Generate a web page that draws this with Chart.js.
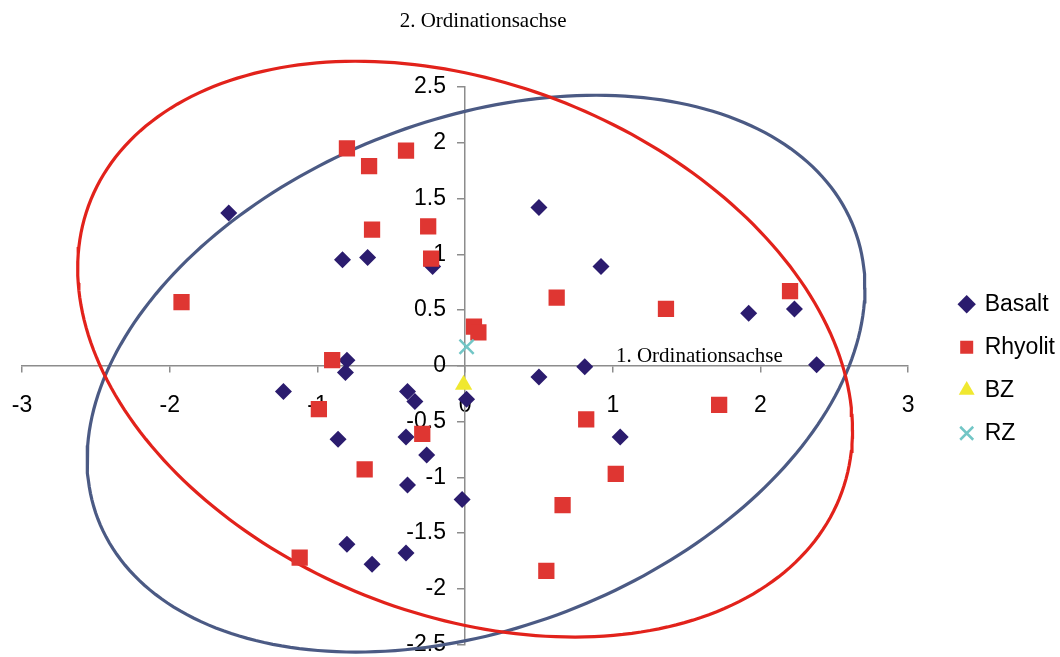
<!DOCTYPE html>
<html lang="de">
<head>
<meta charset="utf-8">
<title>Ordination</title>
<script src="https://cdn.jsdelivr.net/npm/chart.js@4"></script>
<style>
  html, body { margin: 0; padding: 0; background: #ffffff; }
  #wrap { width: 1060px; height: 657px; }
</style>
</head>
<body>
<div id="wrap"><canvas id="chart" width="1060" height="657"></canvas></div>
<script>
// Sample scores on the first two ordination axes
const basaltX = [-1.60, -0.83, -0.66, -0.22, -0.80, -0.81, 0.50, 0.92, 1.92, 2.23, 0.81, 0.50, 2.38,
                 -1.23, -0.39, -0.34, 0.01, -0.86, -0.40, -0.26, -0.39, -0.02, -0.80, -0.40, -0.63, 1.05];
const basaltY = [1.37, 0.95, 0.97, 0.89, 0.05, -0.06, 1.42, 0.89, 0.47, 0.51, -0.01, -0.10, 0.01,
                 -0.23, -0.23, -0.32, -0.30, -0.66, -0.64, -0.80, -1.07, -1.20, -1.60, -1.68, -1.78, -0.64];

const rhyolitX = [-0.80, -0.65, -0.40, -0.63, -0.25, -0.23, -1.92, -0.90, 0.06, 0.09, 0.62,
                  1.36, 2.20, -0.99, -0.29, -0.68, -1.12, 1.72, 0.82, 1.02, 0.66, 0.55];
const rhyolitY = [1.95, 1.79, 1.93, 1.22, 1.25, 0.96, 0.57, 0.05, 0.35, 0.30, 0.61,
                  0.51, 0.67, -0.39, -0.61, -0.93, -1.72, -0.35, -0.48, -0.97, -1.25, -1.84];

// Group centroids
const bzX = [-0.01];
const bzY = [-0.17];
const rzX = [0.01];
const rzY = [0.17];

// Dispersion ellipses: [Rhyolit, Basalt]
const ellipseCx = [0.00, 0.074];
const ellipseCy = [0.149, -0.071];
const ellipseRx = [2.623, 2.633];
const ellipseRy = [2.582, 2.497];
const ellipsePhase = [1.855, 1.2575];

// Axis ranges and titles
const xRange = [-3, 3];
const yRange = [-2.5, 2.5];
const xTitle = '1. Ordinationsachse';
const yTitle = '2. Ordinationsachse';
const seriesNames = ['Basalt', 'Rhyolit', 'BZ', 'RZ'];

const toPoints = (xs, ys) => xs.map((x, i) => ({ x, y: ys[i] }));

function ellipsePoints(i) {
  const pts = [];
  const n = 240;
  for (let k = 0; k <= n; k++) {
    const t = (k / n) * 2 * Math.PI;
    pts.push({
      x: ellipseCx[i] + ellipseRx[i] * Math.cos(t),
      y: ellipseCy[i] + ellipseRy[i] * Math.cos(t - ellipsePhase[i])
    });
  }
  return pts;
}

const sansFont = "'Liberation Sans', Arial, sans-serif";
const serifFont = "'Liberation Serif', 'Times New Roman', serif";
const axisGray = '#8c8c8c';

// Crossing axes should not push the plot area inwards
const noOverhang = (scale) => {
  scale.paddingLeft = 0;
  scale.paddingRight = 0;
  scale.paddingTop = 0;
  scale.paddingBottom = 0;
};

// Axis titles placed next to the crossing axes
const axisTitles = {
  id: 'axisTitles',
  afterDraw(chart) {
    const { ctx, chartArea } = chart;
    const xs = chart.scales.x, ys = chart.scales.y;
    ctx.save();
    ctx.font = '21px ' + serifFont;
    ctx.fillStyle = '#000000';
    ctx.textAlign = 'center';
    ctx.textBaseline = 'alphabetic';
    ctx.fillText(yTitle, xs.getPixelForValue(0) + 18, chartArea.top - 60.5);
    ctx.fillText(xTitle, xs.getPixelForValue(1.586), ys.getPixelForValue(0) - 3.4);
    ctx.restore();
  }
};

// Keep the legend a little away from the plot area
const legendOffset = {
  id: 'legendOffset',
  afterLayout(chart) {
    const l = chart.legend;
    if (l) {
      l.left += 32; l.right += 32;
      l.top += 3; l.bottom += 3;
    }
  }
};

new Chart(document.getElementById('chart'), {
  type: 'scatter',
  data: {
    datasets: [
      {
        label: seriesNames[0],
        data: toPoints(basaltX, basaltY),
        pointStyle: 'rectRot',
        pointRadius: 8.5,
        backgroundColor: '#2b1c6e',
        borderColor: '#2b1c6e',
        borderWidth: 0,
        order: 3
      },
      {
        label: seriesNames[1],
        data: toPoints(rhyolitX, rhyolitY),
        pointStyle: 'rect',
        pointRadius: 11.5,
        backgroundColor: '#df3632',
        borderColor: '#df3632',
        borderWidth: 0,
        order: 2
      },
      {
        label: seriesNames[2],
        data: toPoints(bzX, bzY),
        pointStyle: 'triangle',
        pointRadius: 10,
        backgroundColor: '#f0e830',
        borderColor: '#f0e830',
        borderWidth: 0,
        order: 1
      },
      {
        label: seriesNames[3],
        data: toPoints(rzX, rzY),
        pointStyle: 'crossRot',
        pointRadius: 10,
        backgroundColor: '#72c6c6',
        borderColor: '#72c6c6',
        borderWidth: 2.5,
        order: 0
      },
      {
        label: 'Rhyolit-Ellipse',
        data: ellipsePoints(0),
        showLine: true,
        pointRadius: 0,
        borderColor: '#e2221b',
        backgroundColor: '#e2221b',
        borderWidth: 3.2,
        tension: 0,
        fill: false,
        clip: false,
        order: 10
      },
      {
        label: 'Basalt-Ellipse',
        data: ellipsePoints(1),
        showLine: true,
        pointRadius: 0,
        borderColor: '#4b5a84',
        backgroundColor: '#4b5a84',
        borderWidth: 3.2,
        tension: 0,
        fill: false,
        clip: false,
        order: 11
      }
    ]
  },
  options: {
    responsive: false,
    devicePixelRatio: 1,
    animation: false,
    events: [],
    layout: { padding: { left: 22, top: 87, bottom: 11, right: 27 } },
    scales: {
      x: {
        type: 'linear',
        position: { y: 0 },
        min: xRange[0],
        max: xRange[1],
        afterFit: noOverhang,
        border: { display: true, color: axisGray, width: 1.5 },
        grid: { drawOnChartArea: false, drawTicks: true, tickLength: 6, color: axisGray, lineWidth: 1.5 },
        ticks: {
          stepSize: 1,
          padding: 20,
          color: '#000000',
          font: { family: sansFont, size: 23 },
          callback: (v) => String(v)
        }
      },
      y: {
        type: 'linear',
        position: { x: 0 },
        min: yRange[0],
        max: yRange[1],
        afterFit: noOverhang,
        border: { display: true, color: axisGray, width: 1.5 },
        grid: { drawOnChartArea: false, drawTicks: true, tickLength: 7, color: axisGray, lineWidth: 1.5 },
        ticks: {
          stepSize: 0.5,
          padding: 11,
          color: '#000000',
          font: { family: sansFont, size: 23 },
          // trailing spaces keep the labels clear of the tick marks
          callback: (v) => String(v) + '   '
        }
      }
    },
    plugins: {
      tooltip: { enabled: false },
      title: { display: false },
      legend: {
        position: 'right',
        fullSize: false,
        labels: {
          usePointStyle: true,
          boxWidth: 13,
          boxHeight: 13,
          padding: 20,
          color: '#000000',
          font: { family: sansFont, size: 23 },
          filter: (item) => item.datasetIndex < 4,
          sort: (a, b) => a.datasetIndex - b.datasetIndex
        }
      }
    }
  },
  plugins: [axisTitles, legendOffset]
});
</script>
</body>
</html>
